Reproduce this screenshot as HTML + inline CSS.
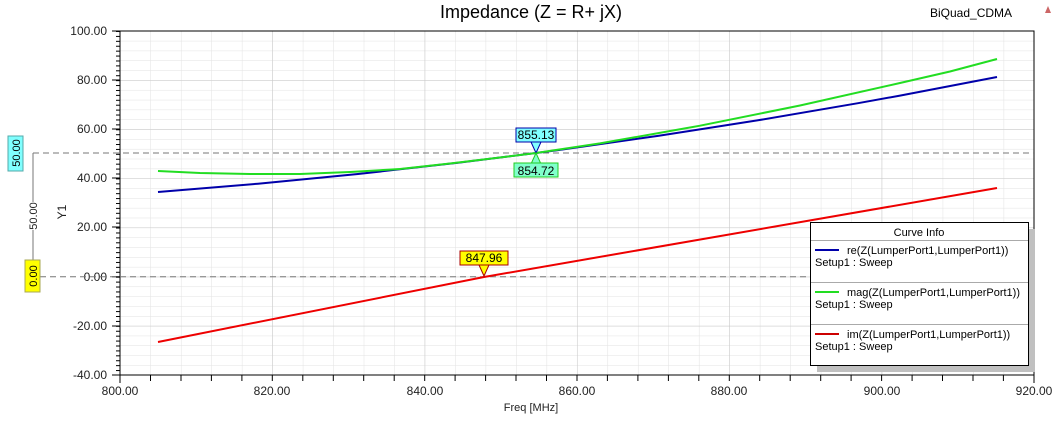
<!DOCTYPE html>
<html><head><meta charset="utf-8"><style>
body{margin:0;background:#fff;width:1062px;height:416px;overflow:hidden}
svg text{font-family:"Liberation Sans",sans-serif}
</style></head><body>
<svg width="1062" height="416" viewBox="0 0 1062 416" xmlns="http://www.w3.org/2000/svg">
<defs>
<pattern id="mn" x="120" y="31" width="30.47" height="9.828" patternUnits="userSpaceOnUse">
<path d="M0 0V9.828M0 0H30.47" stroke="#e2e2e2" stroke-width="1" fill="none"/>
</pattern>
<pattern id="mj" x="120" y="31" width="152.33" height="49.14" patternUnits="userSpaceOnUse">
<path d="M0 0V49.14M0 0H152.33" stroke="#c8c8c8" stroke-width="1" fill="none"/>
</pattern>
<pattern id="lt" x="0" y="31" width="10" height="4.914" patternUnits="userSpaceOnUse">
<path d="M0 0.5H10" stroke="#000" stroke-width="1"/>
</pattern>
</defs>
<rect x="120" y="31" width="914" height="344" fill="url(#mn)"/>
<rect x="120" y="31" width="914" height="344" fill="url(#mj)"/>
<rect x="116" y="31" width="4" height="344" fill="url(#lt)"/>
<path d="M120 31V375H1034V31Z" fill="none" stroke="#000" stroke-width="1"/>
<g stroke="#000">
<path d="M112 31H120M112 80H120M112 129H120M112 178H120M112 227H120M112 276.7H120M112 326H120M112 375H120"/>
<path d="M150.5 375v6M181 375v6M211.4 375v6M241.9 375v6M272.3 375v6M302.8 375v6M333.3 375v6M363.7 375v6M394.2 375v6M424.7 375v6M455.1 375v6M485.6 375v6M516 375v6M546.5 375v6M577 375v6M607.4 375v6M637.9 375v6M668.4 375v6M698.8 375v6M729.3 375v6M759.7 375v6M790.2 375v6M820.7 375v6M851.1 375v6M881.6 375v6M912.1 375v6M942.5 375v6M973 375v6M1003.4 375v6M120 375v8M1034 375v8"/>
</g>
<g font-size="12" fill="#222" text-anchor="end">
<text x="107" y="35">100.00</text><text x="107" y="84">80.00</text><text x="107" y="133">60.00</text>
<text x="107" y="182">40.00</text><text x="107" y="231">20.00</text><text x="107" y="281">0.00</text>
<text x="107" y="330">-20.00</text><text x="107" y="379">-40.00</text>
</g>
<g font-size="12" fill="#222" text-anchor="middle">
<text x="120" y="395">800.00</text><text x="272" y="395">820.00</text><text x="425" y="395">840.00</text>
<text x="577" y="395">860.00</text><text x="729" y="395">880.00</text><text x="882" y="395">900.00</text>
<text x="1034" y="395">920.00</text>
<text x="531" y="411" font-size="11">Freq [MHz]</text>
<text x="531" y="18" font-size="18" fill="#000">Impedance (Z = R+ jX)</text>
</g>
<text x="930" y="17" font-size="12" fill="#000">BiQuad_CDMA</text>
<path d="M1045 13L1048 6L1051 13Z" fill="#c66"/>
<text transform="translate(66,212) rotate(-90)" font-size="12" text-anchor="middle" fill="#222">Y1</text>
<path d="M33 153H1034M40 276.7H1034" stroke="#777" stroke-dasharray="6,4" fill="none"/>
<path d="M33 153V276" stroke="#777"/>
<rect x="26" y="202" width="14" height="28" fill="#fff"/>
<text transform="translate(37,216) rotate(-90)" font-size="11" text-anchor="middle" fill="#222">50.00</text>
<rect x="8" y="136" width="15" height="35" fill="#80ffff" stroke="#5aa"/>
<text transform="translate(20,153) rotate(-90)" font-size="11" text-anchor="middle" fill="#000">50.00</text>
<rect x="25" y="260" width="15" height="32" fill="#ffff00" stroke="#aa5"/>
<text transform="translate(37,276) rotate(-90)" font-size="11" text-anchor="middle" fill="#000">0.00</text>
<polyline fill="none" stroke="#e00" stroke-width="2" points="158,342 484,277 997,188"/>
<polyline fill="none" stroke="#00a" stroke-width="2" points="158,192 258,183.7 358,174 458,162.8 536,153 558,150.1 658,135.9 758,120.3 858,103.2 900,95.6 997,77"/>
<polyline fill="none" stroke="#2d2" stroke-width="2" points="158,171 200,173 250,174 300,174 350,172 400,169 450,163.5 500,157.5 536,153 600,143.4 700,125.7 800,105.5 900,83 950,71.5 997,59"/>
<rect x="516" y="128" width="40" height="14" fill="#80ffff" stroke="#00a"/>
<path d="M531 142L536 153L541 142Z" fill="#80ffff" stroke="#00a"/>
<text x="536" y="139" font-size="12" text-anchor="middle" fill="#000">855.13</text>
<path d="M531 164L536 153L541 164Z" fill="#80ffcc" stroke="#2c2"/>
<rect x="514" y="163" width="44" height="14" fill="#80ffcc" stroke="#2c2"/>
<text x="536" y="175" font-size="12" text-anchor="middle" fill="#000">854.72</text>
<rect x="460" y="251" width="48" height="14" fill="#ffff00" stroke="#a00"/>
<path d="M479 265L484 276L489 265Z" fill="#ffff00" stroke="#a00"/>
<text x="484" y="262" font-size="12" text-anchor="middle" fill="#000">847.96</text>
<rect x="817" y="229" width="218" height="143" fill="#c0c0c0"/>
<rect x="810.5" y="222.5" width="218" height="143" fill="#fff" stroke="#000"/>
<text x="919" y="236" font-size="11" text-anchor="middle" fill="#000">Curve Info</text>
<g stroke="#aaa"><path d="M811 240.5H1028M811 282.5H1028M811 324.5H1028"/></g>
<path d="M815 250H839" stroke="#00a" stroke-width="2"/>
<path d="M815 292H839" stroke="#2d2" stroke-width="2"/>
<path d="M815 334H839" stroke="#c00" stroke-width="2"/>
<g font-size="11" fill="#000">
<text x="847" y="254">re(Z(LumperPort1,LumperPort1))</text><text x="815" y="266">Setup1 : Sweep</text>
<text x="847" y="296">mag(Z(LumperPort1,LumperPort1))</text><text x="815" y="308">Setup1 : Sweep</text>
<text x="847" y="338">im(Z(LumperPort1,LumperPort1))</text><text x="815" y="350">Setup1 : Sweep</text>
</g>
</svg>
</body></html>
